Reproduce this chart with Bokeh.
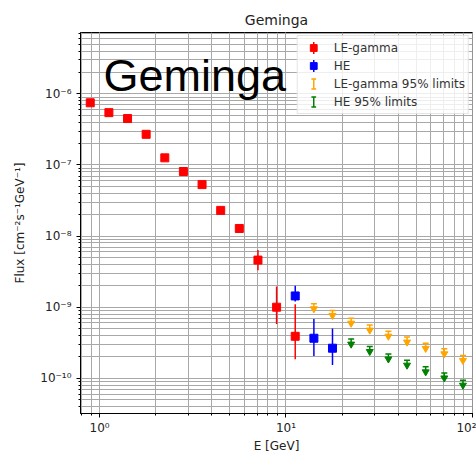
import math

from bokeh.embed import file_html
from bokeh.models import (ColumnDataSource, CustomJS, CustomJSTickFormatter, Label, Legend,
                          LegendItem, Range1d, Scatter)
from bokeh.plotting import figure
from bokeh.resources import INLINE

# LE-gamma spectral points: energy [GeV], flux and its error interval
le_energy = [0.891, 1.122, 1.413, 1.778, 2.239, 2.818, 3.548, 4.467, 5.623, 7.079, 8.913, 11.22]
le_flux = [7.5e-7, 5.45e-7, 4.5e-7, 2.7e-7, 1.26e-7, 8.1e-8, 5.3e-8, 2.3e-8, 1.28e-8, 4.6e-9, 1.0e-9, 3.9e-10]
le_flux_lo = [7.2e-7, 5.25e-7, 4.3e-7, 2.6e-7, 1.2e-7, 7.7e-8, 5.0e-8, 2.15e-8, 1.13e-8, 3.3e-9, 5.8e-10, 1.85e-10]
le_flux_hi = [7.8e-7, 5.65e-7, 4.7e-7, 2.8e-7, 1.32e-7, 8.5e-8, 5.6e-8, 2.45e-8, 1.43e-8, 6.35e-9, 1.95e-9, 1.1e-9]

# HE spectral points
he_energy = [11.22, 14.13, 17.78]
he_flux = [1.44e-9, 3.66e-10, 2.65e-10]
he_flux_lo = [1.2e-9, 2.06e-10, 1.54e-10]
he_flux_hi = [2.0e-9, 6.8e-10, 5.0e-10]

# 95% upper limits
le_lim_energy = [14.13, 17.78, 22.39, 28.18, 35.48, 44.67, 56.23, 70.79, 89.13]
le_lim_flux = [1.12e-9, 9.0e-10, 7.0e-10, 5.6e-10, 4.6e-10, 3.8e-10, 3.1e-10, 2.6e-10, 2.1e-10]
he_lim_energy = [22.39, 28.18, 35.48, 44.67, 56.23, 70.79, 89.13]
he_lim_flux = [3.56e-10, 2.8e-10, 2.2e-10, 1.8e-10, 1.45e-10, 1.19e-10, 9.4e-11]

FONT = "DejaVu Sans"
TEXT = "#222222"
GRID = "#a8a8a8"
ARROW_DROP = 0.85  # arrow head sits a little below the limit value (log axis)

# custom legend swatches: an error bar with caps, and a plain vertical bar
HAS_DEFS = "defs" in Scatter.properties()
marker_defs = {
    "@ibar": CustomJS(code="""
export default (args, obj, {ctx, i, r, visuals}) => {
  const h = 1.45*r, w = 0.7*r
  ctx.moveTo(0, -h); ctx.lineTo(0, h)
  ctx.moveTo(-w, -h); ctx.lineTo(w, -h)
  ctx.moveTo(-w, h); ctx.lineTo(w, h)
  visuals.line.apply(ctx, i)
}
"""),
    "@vbar": CustomJS(code="""
export default (args, obj, {ctx, i, r, visuals}) => {
  const h = 1.8*r
  ctx.moveTo(0, -h); ctx.lineTo(0, h)
  visuals.line.apply(ctx, i)
}
"""),
}

p = figure(width=476, height=455, x_axis_type="log", y_axis_type="log",
           x_range=Range1d(0.79, 100.3), y_range=Range1d(3.2e-11, 7.3e-6),
           title="Geminga", output_backend="svg", toolbar_location=None,
           min_border_left=80, min_border_right=4, min_border_top=32,
           min_border_bottom=10)

p.background_fill_color = "white"
p.border_fill_color = "white"
p.outline_line_color = "black"
p.outline_line_width = 1

p.title.text_font = FONT
p.title.text_font_size = "14px"
p.title.text_font_style = "normal"
p.title.text_color = TEXT
p.title.align = "center"

sup_formatter = CustomJSTickFormatter(code="""
const sup = {"-": "\u207b", "0": "\u2070", "1": "\u00b9", "2": "\u00b2", "3": "\u00b3",
             "4": "\u2074", "5": "\u2075", "6": "\u2076", "7": "\u2077", "8": "\u2078", "9": "\u2079"};
const e = Math.round(Math.log10(tick));
return "10" + String(e).split("").map(c => sup[c]).join("");
""")

for ax in (p.xaxis[0], p.yaxis[0]):
    ax.formatter = sup_formatter
    ax.axis_line_color = "black"
    ax.major_tick_line_color = "black"
    ax.minor_tick_line_color = "black"
    ax.major_tick_in = 0
    ax.major_tick_out = 4
    ax.minor_tick_in = 0
    ax.minor_tick_out = 2
    ax.major_label_text_font = FONT
    ax.major_label_text_font_size = "12px"
    ax.major_label_text_color = TEXT
    ax.axis_label_text_font = FONT
    ax.axis_label_text_font_size = "12px"
    ax.axis_label_text_font_style = "normal"
    ax.axis_label_text_color = TEXT

p.yaxis.major_label_standoff = 5
p.yaxis.axis_label_standoff = 10
p.xaxis.major_label_standoff = 3
p.xaxis.axis_label_standoff = 1

p.xaxis.axis_label = "E [GeV]"
p.yaxis.axis_label = "Flux [cm\u207b\u00b2s\u207b\u00b9GeV\u207b\u00b9]"

for g in (p.xgrid[0], p.ygrid[0]):
    g.grid_line_color = GRID
    g.grid_line_width = 1
    g.minor_grid_line_color = GRID
    g.minor_grid_line_width = 1


def swatch(src, x, y, name, color):
    """Zero-size marker: invisible in the plot, used only as a legend swatch."""
    kw = dict(marker=name, defs=marker_defs) if HAS_DEFS else dict(marker="dash")
    return p.scatter(x, y, source=src, size=0, line_color=color, line_width=1.5, **kw)


# LE-gamma points with error bars
le_src = ColumnDataSource(dict(x=le_energy, y=le_flux, lo=le_flux_lo, hi=le_flux_hi))
p.segment(x0="x", y0="lo", x1="x", y1="hi", source=le_src, line_color="red", line_width=1.5)
le_pts = p.scatter("x", "y", source=le_src, marker="square", size=8,
                   fill_color="red", line_color="red")
le_bar = swatch(le_src, "x", "y", "@vbar", "red")

# HE points with error bars
he_src = ColumnDataSource(dict(x=he_energy, y=he_flux, lo=he_flux_lo, hi=he_flux_hi))
p.segment(x0="x", y0="lo", x1="x", y1="hi", source=he_src, line_color="blue", line_width=1.5)
he_pts = p.scatter("x", "y", source=he_src, marker="square", size=8,
                   fill_color="blue", line_color="blue")
he_bar = swatch(he_src, "x", "y", "@vbar", "blue")


def draw_limits(energy, flux, color):
    """Upper limits: a cap at the limit, a short stem and a downward arrow head."""
    src = ColumnDataSource(dict(x=energy, y=flux, yh=[f * ARROW_DROP for f in flux]))
    p.scatter("x", "y", source=src, marker="dash", size=6, line_color=color, line_width=1.5)
    p.segment(x0="x", y0="y", x1="x", y1="yh", source=src, line_color=color, line_width=1.5)
    p.scatter("x", "yh", source=src, marker="inverted_triangle", size=7,
              fill_color=color, line_color=color)
    return swatch(src, "x", "y", "@ibar", color)


le_lim_bar = draw_limits(le_lim_energy, le_lim_flux, "orange")
he_lim_bar = draw_limits(he_lim_energy, he_lim_flux, "green")

legend = Legend(items=[
    LegendItem(label="LE-gamma", renderers=[le_bar, le_pts]),
    LegendItem(label="HE", renderers=[he_bar, he_pts]),
    LegendItem(label="LE-gamma 95% limits", renderers=[le_lim_bar]),
    LegendItem(label="HE 95% limits", renderers=[he_lim_bar]),
])
legend.location = "top_right"
legend.margin = 3
legend.padding = 3
legend.spacing = 1
legend.glyph_width = 25
legend.glyph_height = 17
legend.label_height = 17
legend.label_standoff = 8
legend.label_text_font = FONT
legend.label_text_font_size = "12px"
legend.label_text_color = "#333333"
legend.border_line_color = "#cccccc"
legend.border_line_width = 1
legend.background_fill_alpha = 0.8
p.add_layout(legend)

p.add_layout(Label(x=1.05, y=1.81e-6, text="Geminga", text_font="Liberation Sans",
                   text_font_size="45px", text_color="black", text_baseline="alphabetic"))

open("out.html", "w").write(file_html(p, INLINE))
